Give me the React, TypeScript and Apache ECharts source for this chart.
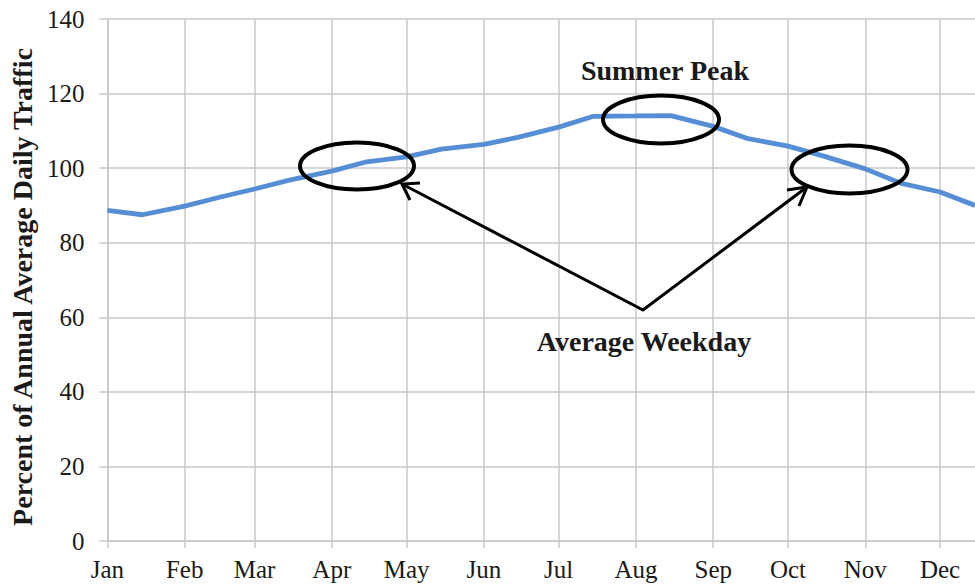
import React, { useEffect, useRef } from "react";
import * as echarts from "echarts";

// Day-of-year (0 = Jan 1) of each month start, and its label
const monthStartDays = [0, 31, 59, 90, 120, 151, 181, 212, 243, 273, 304, 334];
const monthLabels = ["Jan", "Feb", "Mar", "Apr", "May", "Jun", "Jul", "Aug", "Sep", "Oct", "Nov", "Dec"];

// Semi-monthly samples (1st and 15th of each month)
const sampleDays = [0, 14, 31, 45, 59, 73, 90, 104, 120, 134, 151, 165, 181, 195, 212, 226, 243, 257, 273, 287, 304, 318, 334, 348];
const weekdayPct = [88.7, 87.5, 89.8, 92.2, 94.4, 96.8, 99.2, 101.7, 103.0, 105.1, 106.4, 108.3, 111.0, 113.9, 114.0, 114.1, 111.2, 107.9, 105.9, 103.3, 99.8, 96.0, 93.6, 90.0];

const yTicks = [0, 140, 20]; // min, max, interval

const FONT = "'Liberation Serif', 'Times New Roman', serif";
const GRID = "#c8c8c8";
const TEXT = "#1a1a1a";

export default function App() {
  const ref = useRef<HTMLDivElement>(null);

  useEffect(() => {
    if (!ref.current) return;
    const chart = echarts.init(ref.current, undefined, { renderer: "svg" });
    const option: any = {
      animation: false,
      backgroundColor: "#ffffff",
      grid: { left: 107, right: 0, top: 19, bottom: 46, containLabel: false },
      xAxis: {
        type: "value",
        min: 0,
        max: sampleDays[sampleDays.length - 1],
        axisLine: { show: true, lineStyle: { color: GRID, width: 1.5 } },
        axisTick: { show: true, customValues: monthStartDays, length: 7, lineStyle: { color: GRID, width: 1.5 } },
        axisLabel: {
          customValues: monthStartDays,
          formatter: (v: number) => {
            const i = monthStartDays.indexOf(Math.round(v));
            return i >= 0 ? monthLabels[i] : "";
          },
          margin: 16,
          fontSize: 25,
          fontFamily: FONT,
          color: TEXT,
        },
        splitLine: { show: true, lineStyle: { color: GRID, width: 1.5 } },
      },
      yAxis: {
        type: "value",
        min: yTicks[0],
        max: yTicks[1],
        interval: yTicks[2],
        name: "Percent of Annual Average Daily Traffic",
        nameLocation: "middle",
        nameGap: 70,
        nameTextStyle: { fontWeight: "bold", fontSize: 28, fontFamily: FONT, color: TEXT, padding: [0, 14, 0, 0] },
        axisLine: { show: true, lineStyle: { color: GRID, width: 1.5 } },
        axisTick: { show: true, length: 8, lineStyle: { color: GRID, width: 1.5 } },
        axisLabel: { margin: 23, fontSize: 25, fontFamily: FONT, color: TEXT },
        splitLine: { show: true, lineStyle: { color: GRID, width: 1.5 } },
      },
      series: [
        {
          type: "line",
          data: sampleDays.map((d, i) => [d, weekdayPct[i]]),
          showSymbol: false,
          lineStyle: { color: "#558ED5", width: 4.8 },
          z: 3,
        },
      ],
      graphic: [
        { type: "ellipse", z: 100, shape: { cx: 357, cy: 166, rx: 57, ry: 23.5 }, style: { fill: "none", stroke: "#000", lineWidth: 4 } },
        { type: "ellipse", z: 100, shape: { cx: 661, cy: 119.5, rx: 58, ry: 24 }, style: { fill: "none", stroke: "#000", lineWidth: 4 } },
        { type: "ellipse", z: 100, shape: { cx: 849.5, cy: 169.5, rx: 58, ry: 24 }, style: { fill: "none", stroke: "#000", lineWidth: 4 } },
        { type: "polyline", z: 100, shape: { points: [[402, 184], [643, 310], [807, 187]] }, style: { fill: "none", stroke: "#000", lineWidth: 3 } },
        { type: "polyline", z: 100, shape: { points: [[420, 183], [402, 184], [410, 200]] }, style: { fill: "none", stroke: "#000", lineWidth: 3 } },
        { type: "polyline", z: 100, shape: { points: [[787, 190], [807, 187], [799, 206]] }, style: { fill: "none", stroke: "#000", lineWidth: 3 } },
        {
          type: "text", z: 100, x: 665, y: 70,
          style: { text: "Summer Peak", font: `bold 28px ${FONT}`, fill: TEXT, align: "center", verticalAlign: "middle" },
        },
        {
          type: "text", z: 100, x: 644, y: 341,
          style: { text: "Average Weekday", font: `bold 28px ${FONT}`, fill: TEXT, align: "center", verticalAlign: "middle" },
        },
      ],
    };
    chart.setOption(option);
    return () => chart.dispose();
  }, []);

  return (
    <div
      ref={ref}
      style={{ position: "fixed", left: 0, top: 0, width: 975, height: 587, background: "#fff" }}
    />
  );
}
